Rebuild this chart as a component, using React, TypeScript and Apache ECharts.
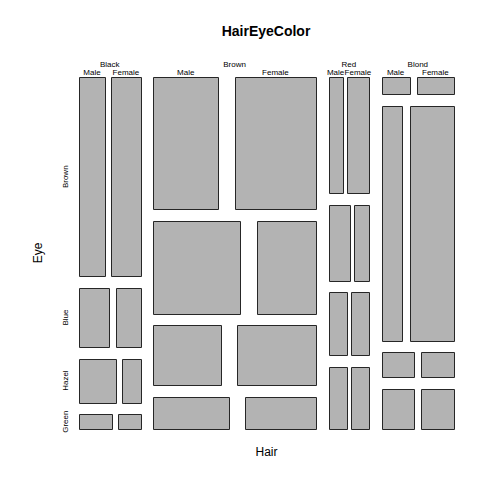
import React, { useEffect, useRef } from "react";
import * as echarts from "echarts";

const hairLevels = ["Black", "Brown", "Red", "Blond"];
const eyeLevels = ["Brown", "Blue", "Hazel", "Green"];
const sexLevels = ["Male", "Female"];
// counts[hair][eye]
const maleCounts = [
  [32, 11, 10, 3],
  [53, 50, 25, 15],
  [10, 10, 7, 7],
  [3, 30, 5, 8],
];
const femaleCounts = [
  [36, 9, 5, 2],
  [66, 34, 29, 14],
  [16, 7, 7, 7],
  [4, 64, 5, 8],
];
const OFF = 0.1;

function buildMosaic() {
  const rects: number[][] = []; // [x1, x2, yBottom, yTop]
  const labels: any[] = []; // [x, y, text, kind]
  const sum = (a: number[]) => a.reduce((s, v) => s + v, 0);
  const hairTot = hairLevels.map((_, i) => sum(maleCounts[i]) + sum(femaleCounts[i]));
  const total = sum(hairTot);
  const nH = hairLevels.length;
  const whiteH = OFF / Math.max(1, nH - 1);
  let xr = 0;
  hairLevels.forEach((h, i) => {
    const hx1 = i === 0 ? 0 : xr + whiteH;
    const hx2 = hx1 + (1 - OFF) * (hairTot[i] / total);
    xr = hx2;
    labels.push([(hx1 + hx2) / 2, 1, h, "hair"]);
    const eyeTot = eyeLevels.map((_, j) => maleCounts[i][j] + femaleCounts[i][j]);
    const nE = eyeLevels.length;
    const whiteE = OFF / Math.max(1, nE - 1);
    let yb = 1;
    eyeLevels.forEach((e, j) => {
      const ey2 = j === 0 ? 1 : yb - whiteE;
      const ey1 = ey2 - (1 - OFF) * (eyeTot[j] / hairTot[i]);
      yb = ey1;
      if (i === 0) labels.push([0, (ey1 + ey2) / 2, e, "eye"]);
      const w = hx2 - hx1;
      const vals = [maleCounts[i][j], femaleCounts[i][j]];
      const whiteS = OFF * w;
      let sxr = hx1;
      vals.forEach((v, k) => {
        const sx1 = k === 0 ? hx1 : sxr + whiteS;
        const sx2 = sx1 + (1 - OFF) * (v / eyeTot[j]) * w;
        sxr = sx2;
        rects.push([sx1, sx2, ey1, ey2]);
        if (j === 0) labels.push([(sx1 + sx2) / 2, 1, sexLevels[k], "sex"]);
      });
    });
  });
  return { rects, labels };
}

const FONT = "'Liberation Sans', Arial, Helvetica, sans-serif";

export default function App() {
  const ref = useRef<HTMLDivElement>(null);
  useEffect(() => {
    if (!ref.current) return;
    document.body.style.margin = "0";
    const chart = echarts.init(ref.current, null, { renderer: "svg" });
    const { rects, labels } = buildMosaic();
    chart.setOption({
      animation: false,
      backgroundColor: "#ffffff",
      grid: { left: 79, top: 77, width: 375, height: 352 },
      xAxis: {
        type: "value",
        min: 0,
        max: 1,
        name: "Hair",
        nameLocation: "middle",
        nameGap: 17,
        nameTextStyle: { fontFamily: FONT, fontSize: 12, color: "#000" },
        axisLine: { show: false },
        axisTick: { show: false },
        axisLabel: { show: false },
        splitLine: { show: false },
      },
      yAxis: {
        type: "value",
        min: 0,
        max: 1,
        name: "Eye",
        nameLocation: "middle",
        nameGap: 35,
        nameTextStyle: { fontFamily: FONT, fontSize: 12, color: "#000" },
        axisLine: { show: false },
        axisTick: { show: false },
        axisLabel: { show: false },
        splitLine: { show: false },
      },
      graphic: [
        {
          type: "text",
          x: 266,
          y: 31,
          style: {
            text: "HairEyeColor",
            fontFamily: FONT,
            fontSize: 14,
            fontWeight: "bold",
            fill: "#000",
            textAlign: "center",
            textVerticalAlign: "middle",
          },
        },
      ],
      series: [
        {
          type: "custom",
          coordinateSystem: "cartesian2d",
          data: rects,
          encode: { x: [0, 1], y: [2, 3] },
          renderItem: (params: any, api: any) => {
            const p1 = api.coord([api.value(0), api.value(3)]);
            const p2 = api.coord([api.value(1), api.value(2)]);
            return {
              type: "rect",
              shape: {
                x: Math.round(p1[0]) + 0.5,
                y: Math.round(p1[1]) + 0.5,
                width: Math.round(p2[0]) - Math.round(p1[0]),
                height: Math.round(p2[1]) - Math.round(p1[1]),
              },
              style: { fill: "#b3b3b3", stroke: "#262626", lineWidth: 1 },
            };
          },
        },
        {
          type: "custom",
          coordinateSystem: "cartesian2d",
          data: labels,
          encode: { x: 0, y: 1 },
          renderItem: (params: any, api: any) => {
            const p = api.coord([api.value(0), api.value(1)]);
            const kind = labels[params.dataIndex][3];
            const text = labels[params.dataIndex][2];
            let x = p[0];
            let y = p[1];
            let rotation = 0;
            if (kind === "hair") y -= 13;
            else if (kind === "sex") y -= 5;
            else {
              x -= 14;
              rotation = Math.PI / 2;
            }
            return {
              type: "text",
              x,
              y,
              rotation,
              style: {
                text,
                fontFamily: FONT,
                fontSize: 8,
                fill: "#000",
                textAlign: "center",
                textVerticalAlign: "middle",
              },
            };
          },
        },
      ],
    });
    return () => chart.dispose();
  }, []);
  return <div ref={ref} style={{ width: 504, height: 504 }} />;
}
